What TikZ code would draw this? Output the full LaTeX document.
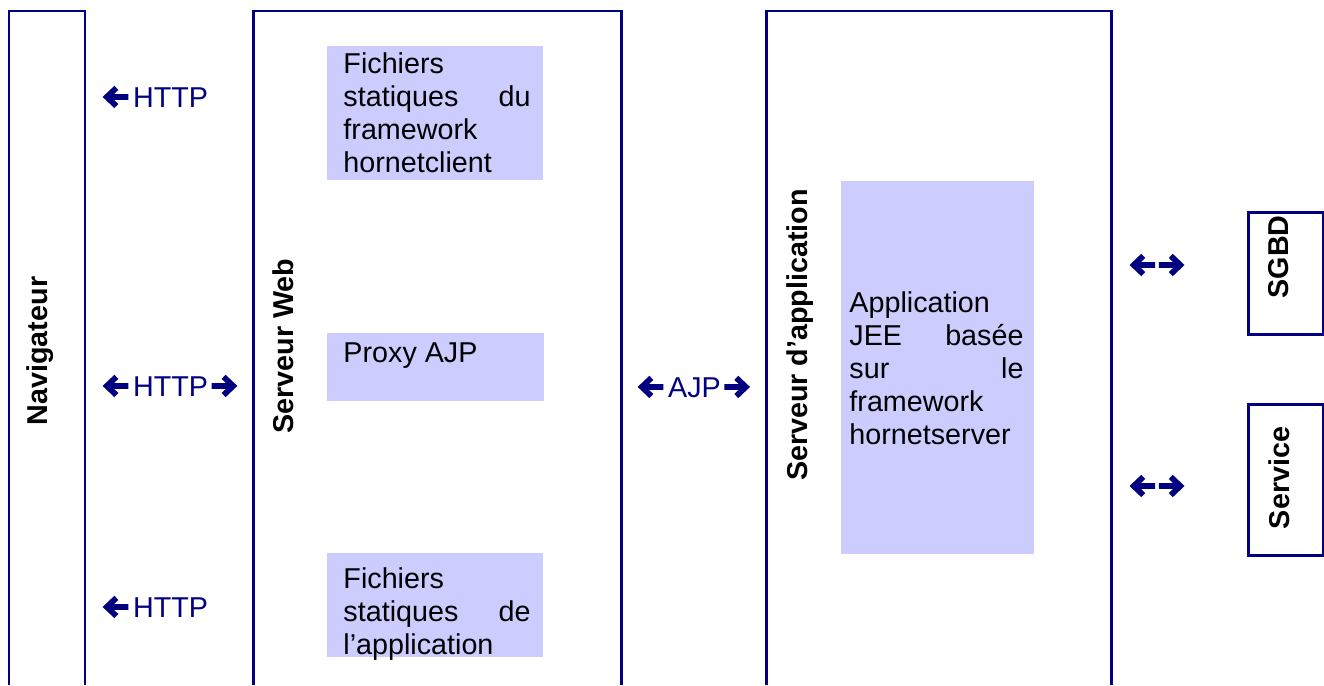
\documentclass[tikz,border=0pt]{standalone}
\usepackage{fontspec}
\setmainfont{Liberation Sans}
\usetikzlibrary{positioning}
\definecolor{navyLine}{HTML}{000080}
\definecolor{lavender}{HTML}{CCCCFF}
\newlength\px
\setlength\px{0.418pt}
\tikzstyle{tierLine} = [draw=navyLine, line width=1.25pt]
\tikzstyle{boxFile} = [rectangle, fill=lavender, inner sep=0pt, anchor=north west]
\tikzstyle{textFile} = [inner sep=0pt, anchor=base west, font=\fontsize{12}{13.8}\selectfont]
\tikzstyle{labelTier} = [rectangle, rotate=90, inner sep=0pt, font=\bfseries\fontsize{12}{14}\selectfont]
\tikzstyle{labelProto} = [inner sep=0pt, text=navyLine, font=\fontsize{12}{14}\selectfont]
\tikzstyle{boxStore} = [tierLine, rectangle, inner sep=0pt, anchor=north west, minimum width=75\px]
\tikzstyle{arrowStroke} = [color=navyLine, line width=2.4pt, line join=miter]
% thick arrow glyph, #1 = 1 (left) or -1 (right)
\newcommand{\thickArrow}[1]{\tikz[x=1pt, y=1pt, baseline=-4.2pt]{%
\useasboundingbox (0,-4.6) rectangle (10.8,4.6);
\draw [arrowStroke, xshift=5.4pt, xscale=#1, xshift=-5.4pt] (10.8,0) -- (1.8,0) (5.8,3.8) -- (1.8,0) -- (5.8,-3.8);}}
\newcommand{\arrL}{\thickArrow{1}\hspace{2pt}}
\newcommand{\arrR}{\hspace{1.5pt}\thickArrow{-1}}

\begin{document}
\begin{tikzpicture}[x=\px, y=-\px]
\useasboundingbox (0,0) rectangle (1324,685);

% tiers, open at the bottom
\draw [tierLine] (9,685) |- (85,11) -- (85,685);
\draw [tierLine] (253,685) |- (621,11) -- (621,685);
\draw [tierLine] (766,685) |- (1111,11) -- (1111,685);

\node (navigateur) [labelTier] at (40,351) {Navigateur};
\node (serveurweb) [labelTier] at (283,346) {Serveur Web};
\node (serveurapp) [labelTier] at (800,335) {Serveur d’application};

% serveur web
\node (hornetclient) [boxFile, minimum width=216\px, minimum height=134\px] at (327,46) {};
\node (hornetclientText) [textFile] at (343,73) {\parbox[t]{187\px}{Fichiers\\
statiques\hfill du\\
framework\\
hornetclient}};

\node (proxy) [boxFile, minimum width=217\px, minimum height=68\px] at (327,333) {};
\node (proxyText) [textFile] at (343,362) {Proxy AJP};

\node (appfiles) [boxFile, minimum width=216\px, minimum height=104\px] at (327,553) {};
\node (appfilesText) [textFile] at (343,588) {\parbox[t]{187\px}{Fichiers\\
statiques\hfill de\\
l’application}};

% serveur d'application
\node (hornetserver) [boxFile, minimum width=193\px, minimum height=373\px] at (841,181) {};
\node (hornetserverText) [textFile] at (849,312) {\parbox[t]{174\px}{Application\\
JEE\hfill basée\\
sur\hfill le\\
framework\\
hornetserver}};

% protocoles
\node (httpTop) [labelProto, anchor=base west] at (102,107) {\arrL HTTP};
\node (httpMid) [labelProto, anchor=base west] at (102,396) {\arrL HTTP\arrR};
\node (httpBot) [labelProto, anchor=base west] at (102,617) {\arrL HTTP};
\node (ajp) [labelProto, anchor=base west] at (637,397) {\arrL AJP\arrR};

% ressources externes
\node (sgbd) [boxStore, minimum height=122\px] at (1247,211) {};
\node (sgbdText) [labelTier] at (1279,257) {SGBD};
\node (service) [boxStore, minimum height=151\px] at (1247,403) {};
\node (serviceText) [labelTier] at (1279,478) {Service};

\node (linkSgbd) [labelProto] at (1157,265) {\thickArrow{1}\hspace{1.5pt}\thickArrow{-1}};
\node (linkService) [labelProto] at (1157,486) {\thickArrow{1}\hspace{1.5pt}\thickArrow{-1}};

\end{tikzpicture}
\end{document}
